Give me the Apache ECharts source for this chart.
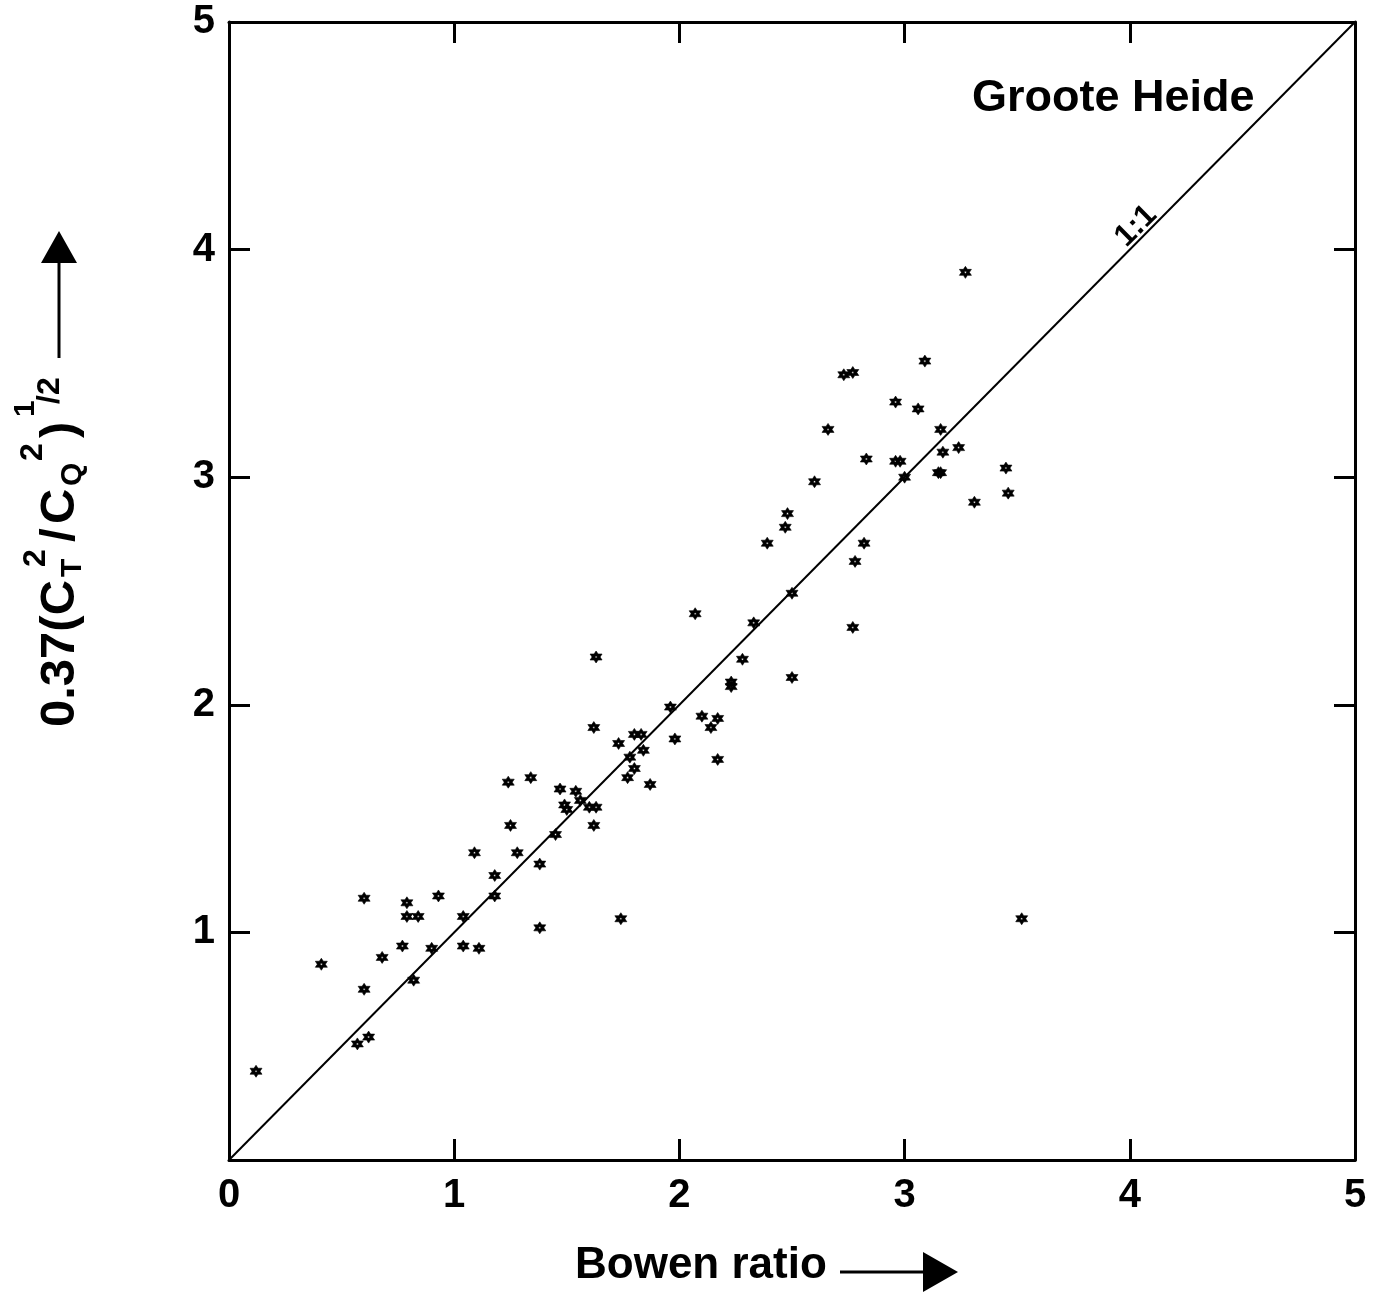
<!DOCTYPE html>
<html><head><meta charset="utf-8">
<script src="https://cdn.jsdelivr.net/npm/echarts@6/dist/echarts.min.js"></script>
<style>html,body{margin:0;padding:0;background:#fff}#c{width:1387px;height:1295px}</style>
</head><body><div id="c"></div>
<script>
// Bowen ratio (x) and 0.37(CT^2/CQ^2)^1/2 (y)
const bowenRatio = [
  0.12,0.41,0.60,0.60,0.57,0.62,0.68,0.77,0.79,0.79,
  0.84,0.82,0.90,0.93,1.04,1.04,1.11,1.09,1.18,1.18,
  1.24,1.25,1.28,1.34,1.38,1.38,1.45,1.47,1.49,1.50,
  1.54,1.56,1.60,1.63,1.62,1.62,1.63,1.73,1.74,1.77,
  1.78,1.80,1.80,1.83,1.84,1.87,1.96,1.98,2.07,2.10,
  2.14,2.17,2.17,2.23,2.23,2.28,2.33,2.39,2.47,2.48,
  2.50,2.50,2.60,2.66,2.73,2.77,2.77,2.78,2.82,2.83,
  2.96,2.96,2.98,3.00,3.06,3.09,3.15,3.16,3.16,3.17,
  3.24,3.27,3.31,3.45,3.46,3.52
];
const structureRatio = [
  0.39,0.86,0.75,1.15,0.51,0.54,0.89,0.94,1.13,1.07,
  1.07,0.79,0.93,1.16,0.94,1.07,0.93,1.35,1.16,1.25,
  1.66,1.47,1.35,1.68,1.02,1.30,1.43,1.63,1.56,1.54,
  1.62,1.58,1.55,1.55,1.47,1.90,2.21,1.83,1.06,1.68,
  1.77,1.72,1.87,1.87,1.80,1.65,1.99,1.85,2.40,1.95,
  1.90,1.94,1.76,2.08,2.10,2.20,2.36,2.71,2.78,2.84,
  2.12,2.49,2.98,3.21,3.45,3.46,2.34,2.63,2.71,3.08,
  3.33,3.07,3.07,3.00,3.30,3.51,3.02,3.21,3.02,3.11,
  3.13,3.90,2.89,3.04,2.93,1.06
];
const oneToOneX = [0, 5];
const oneToOneY = [0, 5];
const xTickLabels = ['0','1','2','3','4','5'];
const yTickLabels = ['','1','2','3','4','5'];

const FONT = '"Liberation Sans", Arial, sans-serif';
const chart = echarts.init(document.getElementById('c'), null, {renderer:'canvas'});

// six-pointed star with a small hole in the middle
const star = 'path://M10,0L12.89,5L18.66,5L15.77,10L18.66,15L12.89,15L10,20L7.11,15L1.34,15L4.23,10L1.34,5L7.11,5Z' +
             'M10,8.3L8.53,9.15L8.53,10.85L10,11.7L11.47,10.85L11.47,9.15Z';

function axisBase(pos, showLabel, labels, isX){
  return {
    type:'value', position:pos, min:0, max:5, interval:1,
    axisLine:{show:true, onZero:false, lineStyle:{color:'#000', width:3}},
    axisTick:{show:true, inside:true, length:21, lineStyle:{color:'#000', width:3}},
    axisLabel:{show:showLabel, color:'#000', fontFamily:FONT, fontWeight:'bold', fontSize:40,
      margin: isX ? 16 : 14,
      formatter: v => labels[Math.round(v)]},
    splitLine:{show:false}
  };
}

// y-axis title pieces: text, font size, position along the text, baseline offset
const titlePieces = [
  {t:'0.37(C', s:49, u:0,   b:0},
  {t:'T',      s:30, u:150, b:5},
  {t:'2',      s:32, u:160, b:-31},
  {t:'/',      s:49, u:185, b:0},
  {t:'C',      s:49, u:203, b:0},
  {t:'Q',      s:30, u:241, b:5},
  {t:'2',      s:32, u:266, b:-34},
  {t:')',      s:49, u:289, b:0},
  {t:'1',      s:30, u:310, b:-42},
  {t:'/2',     s:32, u:323, b:-17}
];
const titleChildren = titlePieces.map(p => ({
  type:'text', x:p.u, y:p.b - 0.85 * p.s,
  style:{text:p.t, fill:'#000', font:'bold ' + p.s + 'px ' + FONT, align:'left', verticalAlign:'top'}
}));

const option = {
  backgroundColor:'#fff',
  animation:false,
  grid:{left:229, right:32, top:22, bottom:135, containLabel:false},
  xAxis:[ axisBase('bottom', true, xTickLabels, true), axisBase('top', false, xTickLabels, true) ],
  yAxis:[ axisBase('left', true, yTickLabels, false), axisBase('right', false, yTickLabels, false) ],
  series:[
    { type:'line', data: oneToOneX.map((x,i)=>[x, oneToOneY[i]]), symbol:'none', silent:true,
      lineStyle:{color:'#000', width:2}, z:2 },
    { type:'scatter', data: bowenRatio.map((x,i)=>[x, structureRatio[i]]),
      symbol: star, symbolSize: 12,
      itemStyle:{color:'#000', borderColor:'#000', borderWidth:0.6, opacity:1}, z:3 }
  ],
  graphic:[
    { type:'text', x:972, y:99, style:{text:'Groote Heide', fill:'#000', font:'bold 45px ' + FONT, align:'left', verticalAlign:'middle'} },
    { type:'text', x:1136, y:226, rotation:Math.PI/4, style:{text:'1:1', fill:'#000', font:'bold 31px ' + FONT, align:'center', verticalAlign:'middle'} },
    { type:'text', x:575, y:1266, style:{text:'Bowen ratio', fill:'#000', font:'bold 44px ' + FONT, align:'left', verticalAlign:'middle'} },
    { type:'line', shape:{x1:840, y1:1272, x2:926, y2:1272}, style:{stroke:'#000', lineWidth:3} },
    { type:'polygon', shape:{points:[[923,1252],[958,1272],[923,1292]]}, style:{fill:'#000'} },
    { type:'group', x:78, y:727, rotation:Math.PI/2, children: titleChildren },
    { type:'line', shape:{x1:59, y1:358, x2:59, y2:260}, style:{stroke:'#000', lineWidth:3} },
    { type:'polygon', shape:{points:[[41,263],[77,263],[59,231]]}, style:{fill:'#000'} }
  ]
};
chart.setOption(option);
</script>
</body></html>
